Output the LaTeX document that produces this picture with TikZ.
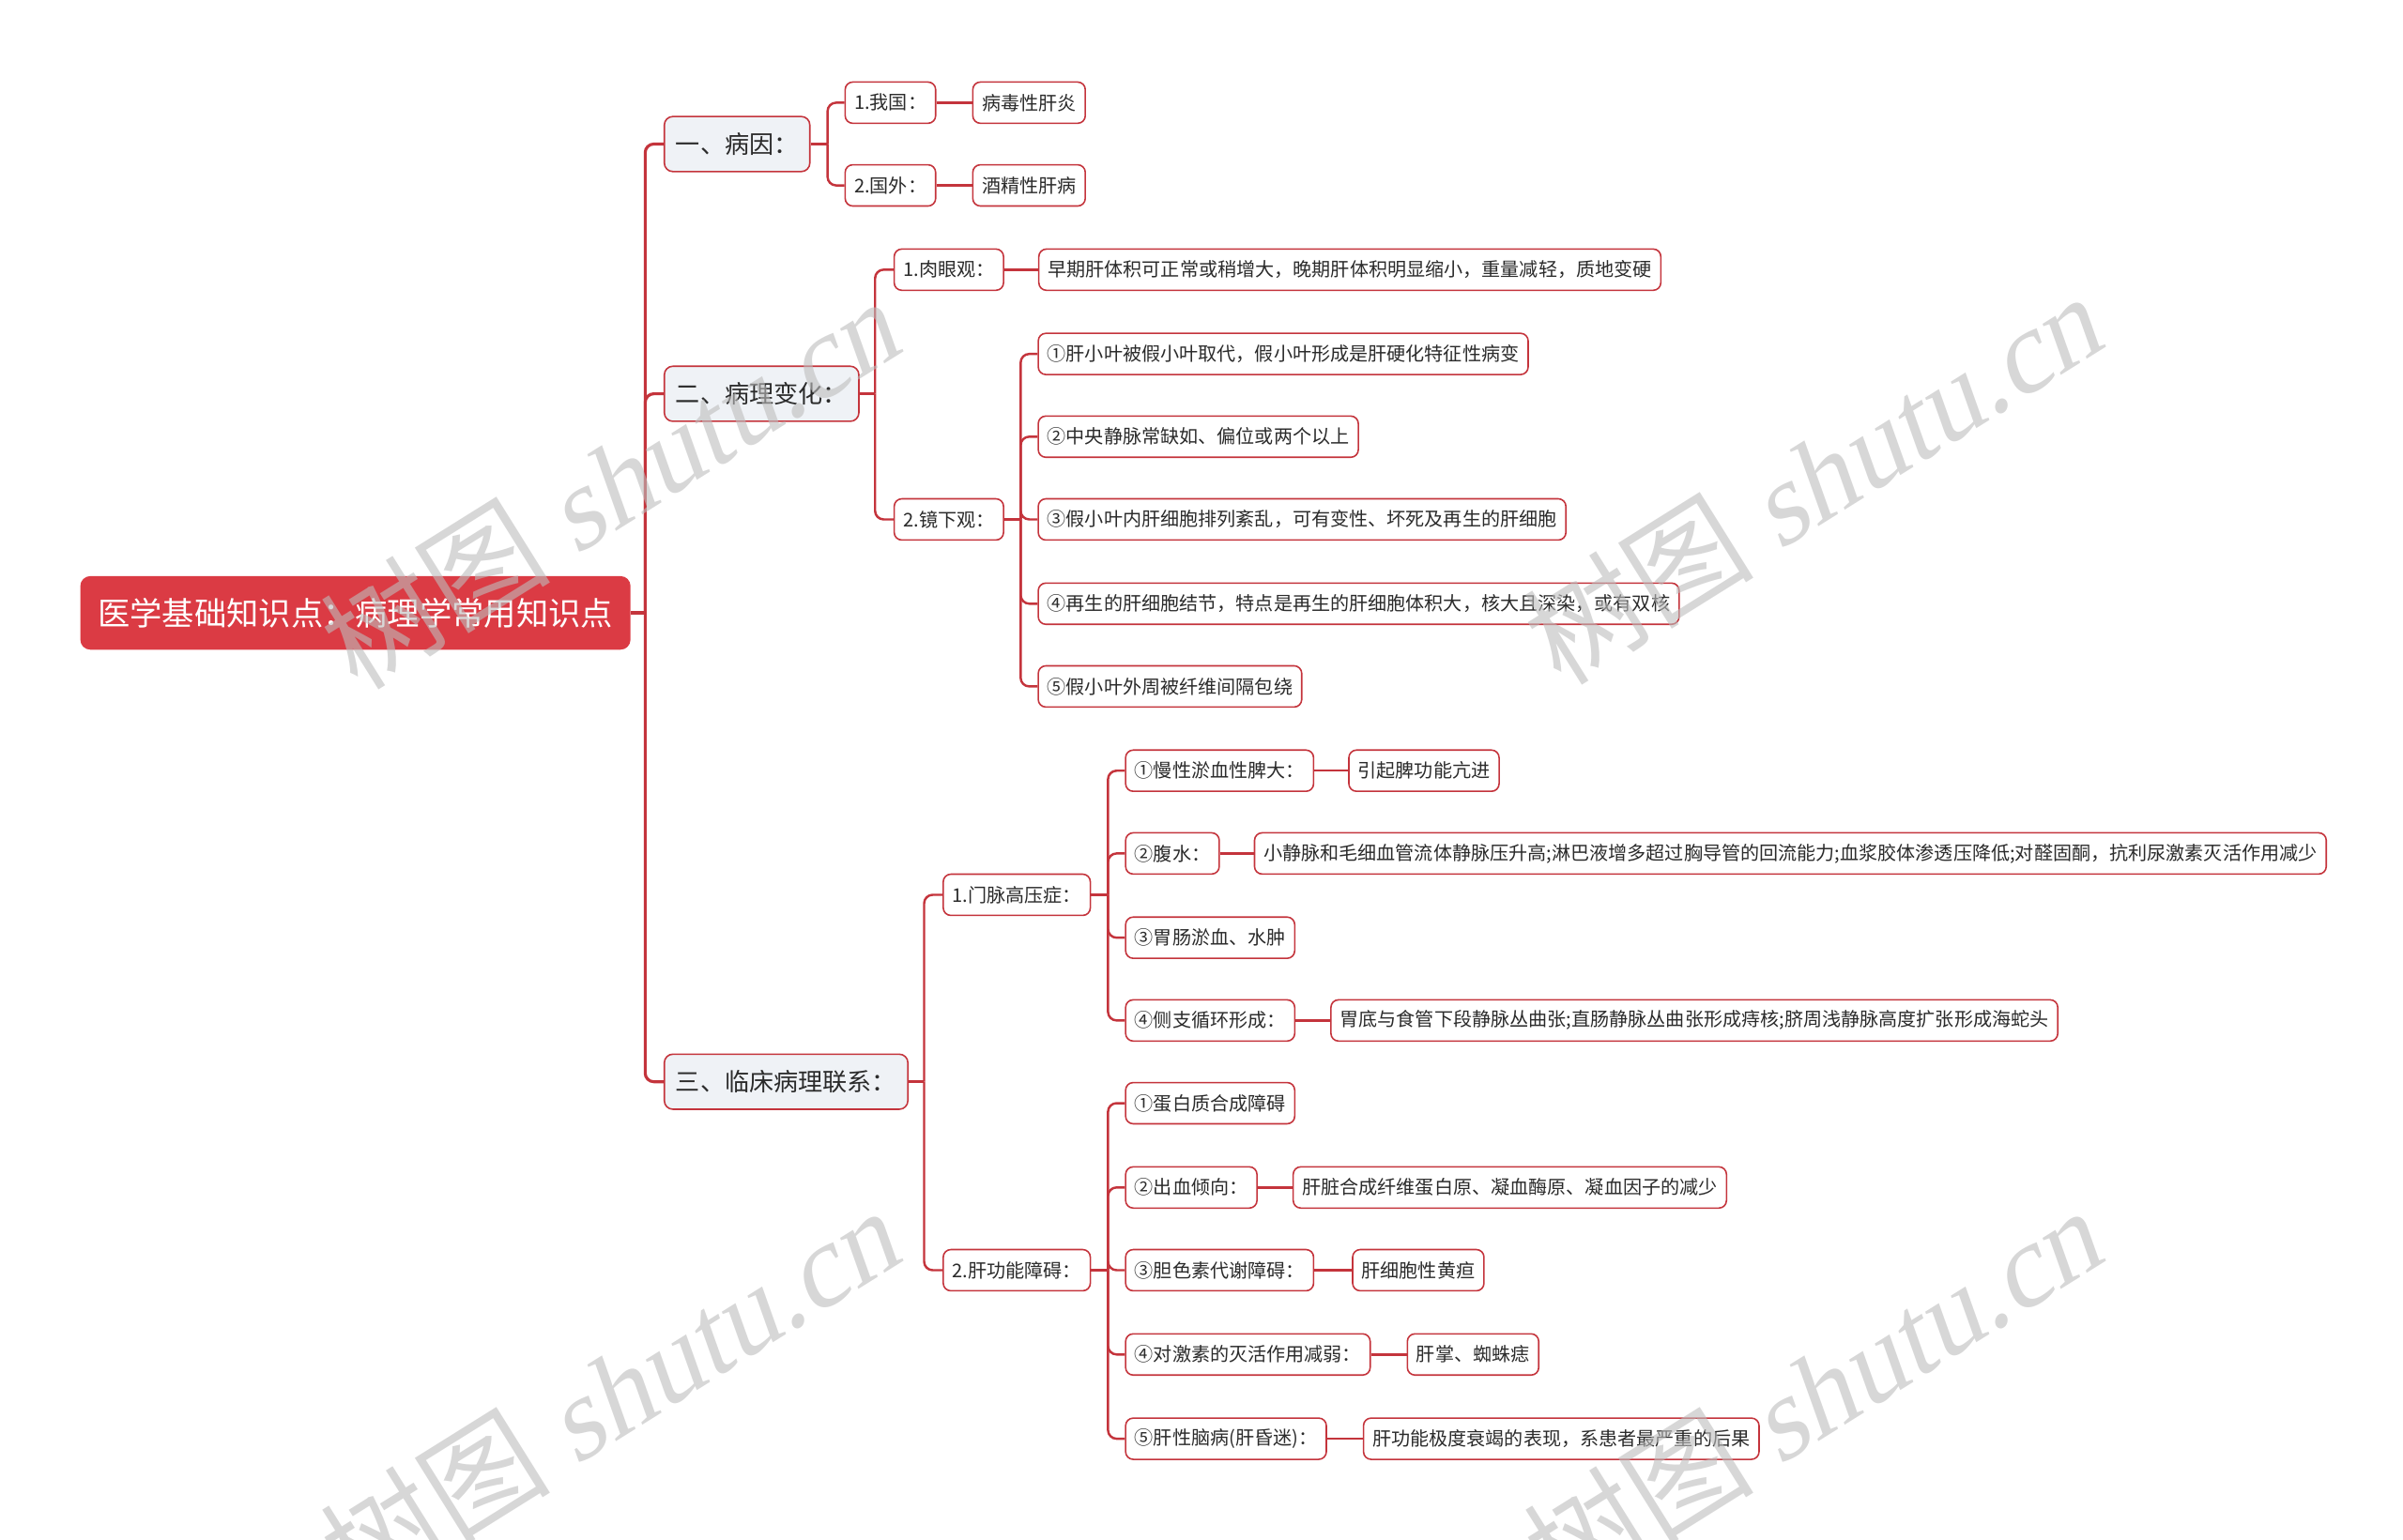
\documentclass[tikz,border=0pt]{standalone}
\usepackage{fontspec}
\newfontfamily\cjk{Noto Sans CJK SC}
\newfontfamily\wmfont[FakeSlant=0.22]{Liberation Serif}
\definecolor{rootred}{HTML}{DB3B44}
\definecolor{linkred}{HTML}{C4343C}
\definecolor{topicbg}{HTML}{EFF2F6}
\definecolor{inkgray}{HTML}{2B2B2B}
\definecolor{wmgray}{HTML}{BDBDBD}
\usetikzlibrary{positioning, calc}
\tikzset{
	rootnode/.style={fill=rootred, text=white, rounded corners=3pt, anchor=west,
		font=\cjk\fontsize{9.76pt}{11pt}\selectfont, inner xsep=5.3pt, inner ysep=0pt, minimum height=22.3pt},
	topicnode/.style={draw=linkred, fill=topicbg, line width=0.45pt, rounded corners=2.6pt, anchor=west,
		text=inkgray, font=\cjk\fontsize{7.43pt}{9pt}\selectfont, inner xsep=3.48pt, inner ysep=0pt, minimum height=16.7pt},
	subnode/.style={draw=linkred, fill=white, line width=0.45pt, rounded corners=2.3pt, anchor=west,
		text=inkgray, font=\cjk\fontsize{5.72pt}{7pt}\selectfont, inner xsep=2.75pt, inner ysep=0pt, minimum height=12.5pt},
	link/.style={draw=linkred, line width=0.7pt, rounded corners=2.6pt},
	trunk/.style={link, line width=0.9pt},
	wmark/.style={text=wmgray, opacity=0.6, rotate=32, font=\fontsize{35pt}{37pt}\selectfont}
}

\begin{document}
\begin{tikzpicture}[x=0.016327cm, y=-0.016327cm, node distance=0.38cm]
	\useasboundingbox (0,0) rectangle (1568,1005);
	\clip (0,0) rectangle (1568,1005);
	\node[rootnode] (root) at (52,400) {医学基础知识点：病理学常用知识点};
	\node[topicnode] (cause) at (433,94) {一、病因：};
	\node[topicnode] (change) at (433,257) {二、病理变化：};
	\node[topicnode] (clinic) at (433,706) {三、临床病理联系：};

	\node[subnode] (china) at (551,67) {1.我国：};
	\node[subnode, right=of china] (virhep) {病毒性肝炎};
	\node[subnode] (foreign) at (551,121) {2.国外：};
	\node[subnode, right=of foreign] (alcohol) {酒精性肝病};

	\node[subnode] (gross) at (583,176) {1.肉眼观：};
	\node[subnode, right=0.36cm of gross] (grossd) {早期肝体积可正常或稍增大，晚期肝体积明显缩小，重量减轻，质地变硬};
	\node[subnode] (micro) at (583,339) {2.镜下观：};
	\node[subnode] (mic1) at (677,231) {①肝小叶被假小叶取代，假小叶形成是肝硬化特征性病变};
	\node[subnode] (mic2) at (677,285) {②中央静脉常缺如、偏位或两个以上};
	\node[subnode] (mic3) at (677,339) {③假小叶内肝细胞排列紊乱，可有变性、坏死及再生的肝细胞};
	\node[subnode] (mic4) at (677,394) {④再生的肝细胞结节，特点是再生的肝细胞体积大，核大且深染，或有双核};
	\node[subnode] (mic5) at (677,448) {⑤假小叶外周被纤维间隔包绕};

	\node[subnode] (portal) at (615,584) {1.门脉高压症：};
	\node[subnode] (por1) at (734,503) {①慢性淤血性脾大：};
	\node[subnode, right=0.36cm of por1] (por1d) {引起脾功能亢进};
	\node[subnode] (por2) at (734,557) {②腹水：};
	\node[subnode, right=0.36cm of por2] (por2d) {小静脉和毛细血管流体静脉压升高;淋巴液增多超过胸导管的回流能力;血浆胶体渗透压降低;对醛固酮，抗利尿激素灭活作用减少};
	\node[subnode] (por3) at (734,612) {③胃肠淤血、水肿};
	\node[subnode] (por4) at (734,666) {④侧支循环形成：};
	\node[subnode, right=0.37cm of por4] (por4d) {胃底与食管下段静脉丛曲张;直肠静脉丛曲张形成痔核;脐周浅静脉高度扩张形成海蛇头};

	\node[subnode] (hepfail) at (615,829) {2.肝功能障碍：};
	\node[subnode] (hep1) at (734,720) {①蛋白质合成障碍};
	\node[subnode] (hep2) at (734,775) {②出血倾向：};
	\node[subnode, right=0.37cm of hep2] (hep2d) {肝脏合成纤维蛋白原、凝血酶原、凝血因子的减少};
	\node[subnode] (hep3) at (734,829) {③胆色素代谢障碍：};
	\node[subnode, right=0.4cm of hep3] (hep3d) {肝细胞性黄疸};
	\node[subnode] (hep4) at (734,884) {④对激素的灭活作用减弱：};
	\node[subnode, right=0.38cm of hep4] (hep4d) {肝掌、蜘蛛痣};
	\node[subnode] (hep5) at (734,939) {⑤肝性脑病(肝昏迷)：};
	\node[subnode, right=0.38cm of hep5] (hep5d) {肝功能极度衰竭的表现，系患者最严重的后果};

	\draw[trunk] (root.east) -- ($(cause.west |- root.east)+(-12,0)$) coordinate (rootj);
	\foreach \nd in {cause,change,clinic} \draw[trunk] (rootj) |- (\nd.west);
	\draw[link] (cause.east) -- ($(china.west |- cause.east)+(-11,0)$) coordinate (causej);
	\foreach \nd in {china,foreign} \draw[link] (causej) |- (\nd.west);
	\draw[link] (change.east) -- ($(gross.west |- change.east)+(-12,0)$) coordinate (changej);
	\foreach \nd in {gross,micro} \draw[link] (changej) |- (\nd.west);
	\draw[link] (clinic.east) -- ($(portal.west |- clinic.east)+(-12,0)$) coordinate (clinicj);
	\foreach \nd in {portal,hepfail} \draw[link] (clinicj) |- (\nd.west);
	\draw[link] (micro.east) -- ($(mic1.west |- micro.east)+(-11,0)$) coordinate (microj);
	\foreach \nd in {mic1,mic2,mic3,mic4,mic5} \draw[link] (microj) |- (\nd.west);
	\draw[link] (portal.east) -- ($(por1.west |- portal.east)+(-11,0)$) coordinate (portalj);
	\foreach \nd in {por1,por2,por3,por4} \draw[link] (portalj) |- (\nd.west);
	\draw[link] (hepfail.east) -- ($(hep1.west |- hepfail.east)+(-11,0)$) coordinate (hepfailj);
	\foreach \nd in {hep1,hep2,hep3,hep4,hep5} \draw[link] (hepfailj) |- (\nd.west);
	\foreach \p/\q in {china/virhep, foreign/alcohol, gross/grossd, por1/por1d, por2/por2d, por4/por4d, hep2/hep2d, hep3/hep3d, hep4/hep4d, hep5/hep5d}
		\draw[link] (\p.east) -- (\q.west);

	\node[wmark] (wm1) at (397,316) {\cjk 树图 \wmfont shutu.cn};
	\node[wmark] (wm2) at (1182,313) {\cjk 树图 \wmfont shutu.cn};
	\node[wmark] (wm3) at (397,910) {\cjk 树图 \wmfont shutu.cn};
	\node[wmark] (wm4) at (1182,910) {\cjk 树图 \wmfont shutu.cn};
\end{tikzpicture}
\end{document}
